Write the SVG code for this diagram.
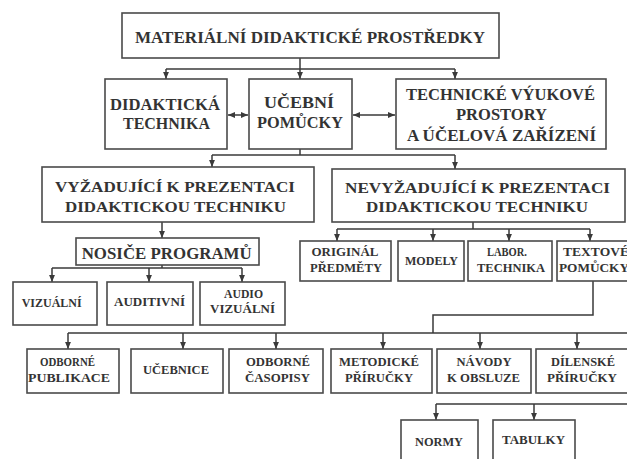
<svg xmlns="http://www.w3.org/2000/svg" width="627" height="459" viewBox="0 0 627 459">
<defs>
<marker id="ah" markerUnits="userSpaceOnUse" markerWidth="7" markerHeight="7" viewBox="0 0 6 6" refX="6" refY="3" orient="auto">
<path d="M0,0.5 L6,3 L0,5.5 z" fill="#3a3a3a"/>
</marker>
<marker id="as" markerUnits="userSpaceOnUse" markerWidth="7" markerHeight="7" viewBox="0 0 6 6" refX="0" refY="3" orient="auto">
<path d="M6,0.5 L0,3 L6,5.5 z" fill="#3a3a3a"/>
</marker>
<style>
rect{fill:#fff;stroke:#4a4a4a;stroke-width:1.6}
text{font-family:"Liberation Serif","Times New Roman",serif;font-weight:bold;fill:#333;text-anchor:middle}
.c path,.c line{fill:none;stroke:#3a3a3a;stroke-width:1.5}
.a{marker-end:url(#ah)}
.t1{font-size:16.5px}
.t2{font-size:16.5px}
.t3{font-size:15.5px}
.t4{font-size:12px}
</style>
</defs>
<rect x="0" y="0" width="627" height="459" style="fill:#fff;stroke:none"/>

<g class="c" id="connectors">
<line x1="300" y1="58" x2="300" y2="69"/>
<line x1="166" y1="69" x2="455" y2="69"/>
<line class="a" x1="166" y1="69" x2="166" y2="79"/>
<line class="a" x1="300" y1="69" x2="300" y2="79"/>
<line class="a" x1="455" y1="69" x2="455" y2="79"/>
<line x1="228" y1="115" x2="248" y2="115" marker-start="url(#as)" marker-end="url(#ah)"/>
<line x1="353" y1="115" x2="395" y2="115" marker-start="url(#as)" marker-end="url(#ah)"/>
<line x1="300" y1="149" x2="300" y2="155"/>
<line x1="212" y1="155" x2="455" y2="155"/>
<line class="a" x1="212" y1="155" x2="212" y2="167"/>
<line class="a" x1="455" y1="155" x2="455" y2="169"/>
<line class="a" x1="162" y1="222" x2="162" y2="238"/>
<line x1="162" y1="265" x2="162" y2="268"/>
<line x1="52" y1="268" x2="242" y2="268"/>
<line class="a" x1="52" y1="268" x2="52" y2="282"/>
<line class="a" x1="149" y1="268" x2="149" y2="282"/>
<line class="a" x1="242" y1="268" x2="242" y2="282"/>
<line x1="473" y1="222" x2="473" y2="229"/>
<line x1="337" y1="229" x2="590" y2="229"/>
<line class="a" x1="337" y1="229" x2="337" y2="241"/>
<line class="a" x1="433" y1="229" x2="433" y2="241"/>
<line class="a" x1="509" y1="229" x2="509" y2="241"/>
<line class="a" x1="590" y1="229" x2="590" y2="241"/>
<path d="M593,281 V315 H433 V333"/>
<line x1="68" y1="333" x2="627" y2="333"/>
<line class="a" x1="68" y1="333" x2="68" y2="349"/>
<line class="a" x1="183" y1="333" x2="183" y2="349"/>
<line class="a" x1="276" y1="333" x2="276" y2="349"/>
<line class="a" x1="383" y1="333" x2="383" y2="349"/>
<line class="a" x1="480" y1="333" x2="480" y2="349"/>
<line class="a" x1="577" y1="333" x2="577" y2="349"/>
<line x1="436" y1="404" x2="627" y2="404"/>
<line class="a" x1="436" y1="404" x2="436" y2="420"/>
<line class="a" x1="534" y1="404" x2="534" y2="420"/>
</g>

<g id="n-material">
<rect x="122" y="13" width="377" height="45"/>
<text class="t1" x="310" y="43" textLength="350" lengthAdjust="spacingAndGlyphs">MATERIÁLNÍ DIDAKTICKÉ PROSTŘEDKY</text>
</g>
<g id="n-didakticka">
<rect x="105" y="79" width="122" height="70"/>
<text class="t2" x="165" y="110" textLength="110" lengthAdjust="spacingAndGlyphs">DIDAKTICKÁ</text>
<text class="t2" x="166.5" y="129" textLength="87" lengthAdjust="spacingAndGlyphs">TECHNIKA</text>
</g>
<g id="n-ucebni">
<rect x="249" y="79" width="103" height="70"/>
<text class="t2" x="299" y="108" textLength="70" lengthAdjust="spacingAndGlyphs">UČEBNÍ</text>
<text class="t2" x="300" y="128" textLength="86" lengthAdjust="spacingAndGlyphs">POMŮCKY</text>
</g>
<g id="n-technicke">
<rect x="396" y="79" width="210" height="70"/>
<text class="t2" x="500.5" y="100" textLength="189" lengthAdjust="spacingAndGlyphs">TECHNICKÉ VÝUKOVÉ</text>
<text class="t2" x="501.5" y="120" textLength="91" lengthAdjust="spacingAndGlyphs">PROSTORY</text>
<text class="t2" x="501.5" y="141" textLength="189" lengthAdjust="spacingAndGlyphs">A ÚČELOVÁ ZAŘÍZENÍ</text>
</g>
<g id="n-vyzadujici">
<rect x="42" y="167" width="272" height="55"/>
<text class="t3" x="175" y="192" textLength="240" lengthAdjust="spacingAndGlyphs">VYŽADUJÍCÍ K PREZENTACI</text>
<text class="t3" x="175.5" y="212" textLength="221" lengthAdjust="spacingAndGlyphs">DIDAKTICKOU TECHNIKU</text>
</g>
<g id="n-nevyzadujici">
<rect x="332" y="169" width="293" height="53"/>
<text class="t3" x="477.5" y="193" textLength="265" lengthAdjust="spacingAndGlyphs">NEVYŽADUJÍCÍ K PREZENTACI</text>
<text class="t3" x="477" y="212" textLength="222" lengthAdjust="spacingAndGlyphs">DIDAKTICKOU TECHNIKU</text>
</g>
<g id="n-nosice">
<rect x="76" y="238" width="183" height="27"/>
<text class="t2" x="166.7" y="259" textLength="170" lengthAdjust="spacingAndGlyphs">NOSIČE PROGRAMŮ</text>
</g>
<g id="n-vizualni">
<rect x="13" y="282" width="84" height="43"/>
<text class="t4" x="51.7" y="307" textLength="60" lengthAdjust="spacingAndGlyphs">VIZUÁLNÍ</text>
</g>
<g id="n-auditivni">
<rect x="107" y="282" width="86" height="43"/>
<text class="t4" x="149.5" y="306" textLength="71" lengthAdjust="spacingAndGlyphs">AUDITIVNÍ</text>
</g>
<g id="n-audiovizualni">
<rect x="200" y="282" width="85" height="43"/>
<text class="t4" x="243.5" y="298" textLength="39" lengthAdjust="spacingAndGlyphs">AUDIO</text>
<text class="t4" x="242.5" y="313" textLength="65" lengthAdjust="spacingAndGlyphs">VIZUÁLNÍ</text>
</g>
<g id="n-original">
<rect x="300" y="241" width="91" height="40"/>
<text class="t4" x="345" y="256" textLength="67" lengthAdjust="spacingAndGlyphs">ORIGINÁL</text>
<text class="t4" x="346" y="272" textLength="72" lengthAdjust="spacingAndGlyphs">PŘEDMĚTY</text>
</g>
<g id="n-modely">
<rect x="398" y="241" width="66" height="40"/>
<text class="t4" x="431.5" y="265" textLength="53" lengthAdjust="spacingAndGlyphs">MODELY</text>
</g>
<g id="n-labor">
<rect x="468" y="241" width="84" height="40"/>
<text class="t4" x="507" y="256" textLength="40" lengthAdjust="spacingAndGlyphs">LABOR.</text>
<text class="t4" x="511" y="272" textLength="68" lengthAdjust="spacingAndGlyphs">TECHNIKA</text>
</g>
<g id="n-textove">
<rect x="557" y="241" width="80" height="40"/>
<text class="t4" x="563" y="256" textLength="66" lengthAdjust="spacingAndGlyphs" style="text-anchor:start">TEXTOVÉ</text>
<text class="t4" x="559" y="272" textLength="70" lengthAdjust="spacingAndGlyphs" style="text-anchor:start">POMŮCKY</text>
</g>
<g id="n-odborne-publikace">
<rect x="27" y="349" width="92" height="44"/>
<text class="t4" x="67.5" y="366" textLength="55" lengthAdjust="spacingAndGlyphs">ODBORNÉ</text>
<text class="t4" x="69" y="382" textLength="82" lengthAdjust="spacingAndGlyphs">PUBLIKACE</text>
</g>
<g id="n-ucebnice">
<rect x="131" y="349" width="92" height="44"/>
<text class="t4" x="176" y="374" textLength="66" lengthAdjust="spacingAndGlyphs">UČEBNICE</text>
</g>
<g id="n-odborne-casopisy">
<rect x="229" y="349" width="94" height="44"/>
<text class="t4" x="278" y="366" textLength="64" lengthAdjust="spacingAndGlyphs">ODBORNÉ</text>
<text class="t4" x="277.5" y="382" textLength="65" lengthAdjust="spacingAndGlyphs">ČASOPISY</text>
</g>
<g id="n-metodicke">
<rect x="331" y="349" width="101" height="44"/>
<text class="t4" x="379" y="366" textLength="80" lengthAdjust="spacingAndGlyphs">METODICKÉ</text>
<text class="t4" x="379" y="382" textLength="68" lengthAdjust="spacingAndGlyphs">PŘÍRUČKY</text>
</g>
<g id="n-navody">
<rect x="437" y="349" width="94" height="44"/>
<text class="t4" x="484" y="366" textLength="55" lengthAdjust="spacingAndGlyphs">NÁVODY</text>
<text class="t4" x="483.5" y="382" textLength="73" lengthAdjust="spacingAndGlyphs">K OBSLUZE</text>
</g>
<g id="n-dilenske">
<rect x="536" y="349" width="100" height="44"/>
<text class="t4" x="583" y="366" textLength="64" lengthAdjust="spacingAndGlyphs">DÍLENSKÉ</text>
<text class="t4" x="582" y="382" textLength="70" lengthAdjust="spacingAndGlyphs">PŘÍRUČKY</text>
</g>
<g id="n-normy">
<rect x="401" y="420" width="77" height="50"/>
<text class="t4" x="439" y="446" textLength="48" lengthAdjust="spacingAndGlyphs">NORMY</text>
</g>
<g id="n-tabulky">
<rect x="493" y="420" width="82" height="50"/>
<text class="t4" x="533.5" y="444" textLength="63" lengthAdjust="spacingAndGlyphs">TABULKY</text>
</g>
</svg>
